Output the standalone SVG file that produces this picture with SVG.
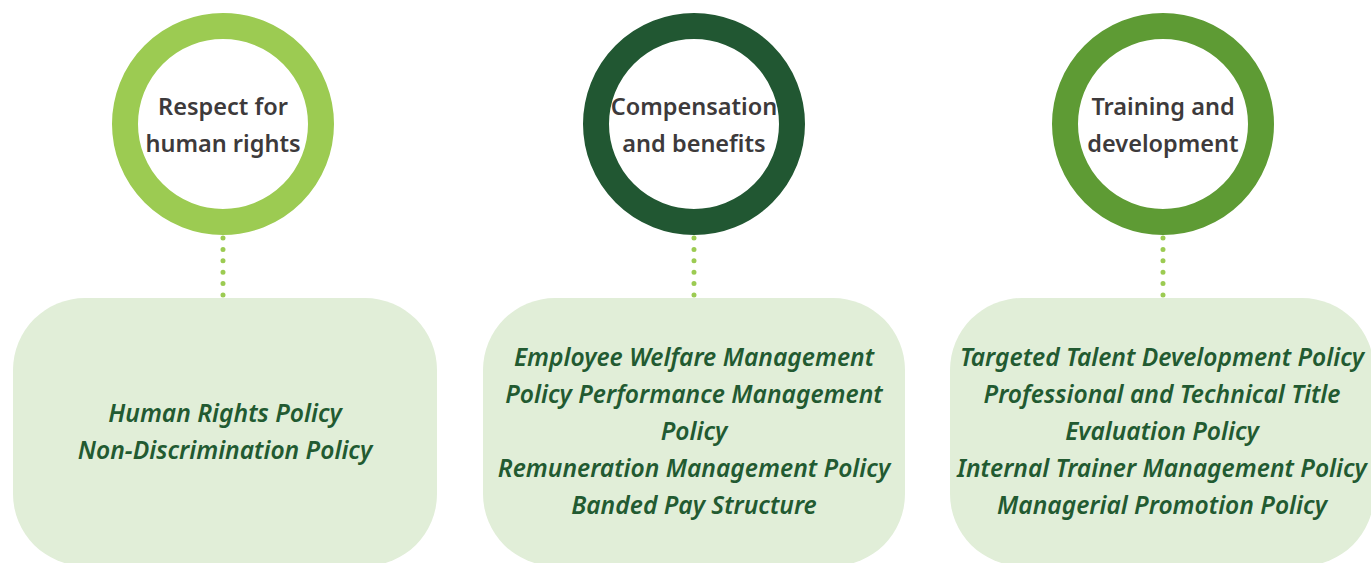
<svg xmlns="http://www.w3.org/2000/svg" width="1371" height="563" viewBox="0 0 1371 563">
<style>
.ring{fill:#fff;stroke-width:26}
.head{font-family:"Noto Sans","Open Sans",sans-serif;font-size:23.5px;font-weight:600;fill:#3d3a3b;text-anchor:middle}
.box{fill:#e1eed8}
.body{font-family:"Noto Sans","Open Sans",sans-serif;font-size:24.6px;font-weight:600;font-style:italic;fill:#225a31;text-anchor:middle}
.dot{stroke:#9ccb52;stroke-width:5;stroke-linecap:round;stroke-dasharray:0 11.4;fill:none}
</style>
<rect width="1371" height="563" fill="#fff"/>
<g id="connectors">
<line class="dot" x1="223" y1="238" x2="223" y2="296"/>
<line class="dot" x1="694" y1="238" x2="694" y2="296"/>
<line class="dot" x1="1163" y1="238" x2="1163" y2="296"/>
</g>
<g id="node-respect">
<circle class="ring" cx="223" cy="124" r="98" stroke="#9ccb52"/>
<text class="head" x="223" y="115">Respect for</text>
<text class="head" x="223" y="152">human rights</text>
</g>
<g id="node-compensation">
<circle class="ring" cx="694" cy="124" r="98" stroke="#215732"/>
<text class="head" x="694" y="115">Compensation</text>
<text class="head" x="694" y="152">and benefits</text>
</g>
<g id="node-training">
<circle class="ring" cx="1163" cy="124" r="98" stroke="#5e9b34"/>
<text class="head" x="1163" y="115">Training and</text>
<text class="head" x="1163" y="152">development</text>
</g>
<g id="box-respect">
<rect class="box" x="13" y="298" width="424" height="268" rx="72"/>
<text class="body" x="225" y="422">Human Rights Policy</text>
<text class="body" x="225" y="459">Non-Discrimination Policy</text>
</g>
<g id="box-compensation">
<rect class="box" x="483" y="298" width="422" height="268" rx="72"/>
<text class="body" x="694" y="366">Employee Welfare Management</text>
<text class="body" x="694" y="403">Policy Performance Management</text>
<text class="body" x="694" y="440">Policy</text>
<text class="body" x="694" y="477">Remuneration Management Policy</text>
<text class="body" x="694" y="514">Banded Pay Structure</text>
</g>
<g id="box-training">
<rect class="box" x="950" y="298" width="424" height="268" rx="72"/>
<text class="body" x="1162" y="366">Targeted Talent Development Policy</text>
<text class="body" x="1162" y="403">Professional and Technical Title</text>
<text class="body" x="1162" y="440">Evaluation Policy</text>
<text class="body" x="1162" y="477">Internal Trainer Management Policy</text>
<text class="body" x="1162" y="514">Managerial Promotion Policy</text>
</g>
</svg>
